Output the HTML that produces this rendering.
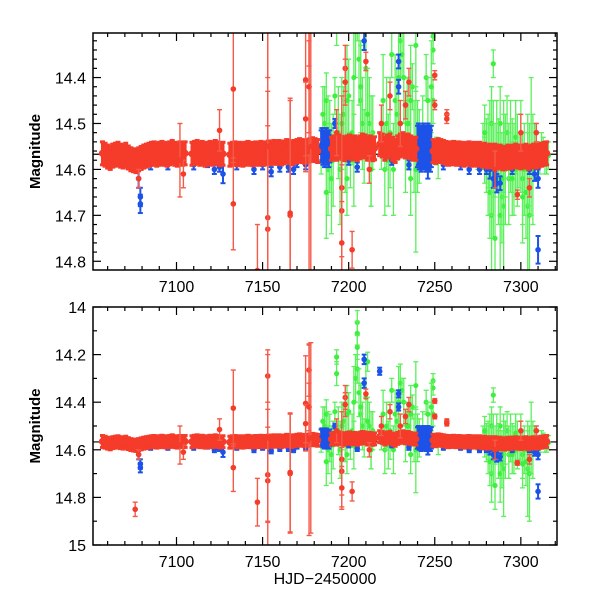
<!DOCTYPE html>
<html><head><meta charset="utf-8">
<style>
html,body{margin:0;padding:0;background:#fff;}
svg{display:block;}
text{font-family:"Liberation Sans",sans-serif;fill:#000;}
</style></head>
<body>
<svg id="chart" width="600" height="600" viewBox="0 0 600 600"></svg>
<script>
// ---- data (HJD-2450000, magnitude, error) ----
const redBandT = [7057,7058.5,7060,7061.5,7063,7064.5,7066,7067.5,7069,7070.5,7072,7073.5,7075,7076.5,7078,7079.5,7081,7082.5,7084,7085.5,7087,7088.5,7090,7091.5,7093,7094.5,7096,7097.5,7099,7100.5,7102,7103.5,7105,
7109,7110.5,7112,7113.5,7115,7116.5,7118,7119.5,7121,7122.5,7124,7125.5,7127,
7131,7132.5,7134,7135.5,7137,7138.5,7140,7141.5,7143,7144.5,7146,7147.5,7149,7150.5,7152,7153.5,7155,7156.5,7158,7159.5,7161,7162.5,7164,7165.5,7167,7168.5,7170,7171.5,7173,7174.5,7176,7177.5,7179,7180.5,7182,
7190,7191.5,7193,7194.5,7196,7197.5,7199,7200.5,7202,7203.5,7205,7206.5,7208,7209.5,7211,7212.5,7214,7215,
7218,7219.5,7221,7222.5,7224,7225.5,7227,7228.5,7230,7231.5,7233,7234.5,7236,7237.5,7239,
7249,7250.5,7252,7253.5,7255,7256.5,7258,7259.5,7261,7262.5,7264,7265.5,7267,7268.5,7270,7271.5,7273,7274.5,7276,7277.5,7279,7280.5,7282,7283.5,7285,7286.5,7288,7289.5,7291,7292.5,7294,7295.5,7297,7298.5,7300,7301.5,7303,7304.5,7306,7307.5,7309,7310.5,7312,7313.5,7315];
const redBandM = [14.565,14.568,14.572,14.575,14.57,14.568,14.566,14.57,14.572,14.568,14.574,14.578,14.58,14.582,14.578,14.575,14.572,14.57,14.568,14.566,14.565,14.568,14.566,14.564,14.566,14.568,14.565,14.562,14.566,14.568,14.565,14.566,14.565,
14.566,14.564,14.562,14.566,14.564,14.568,14.566,14.564,14.566,14.562,14.565,14.567,14.566,
14.568,14.566,14.565,14.567,14.566,14.568,14.566,14.564,14.566,14.567,14.565,14.566,14.564,14.566,14.565,14.563,14.565,14.562,14.564,14.562,14.565,14.563,14.56,14.562,14.565,14.562,14.56,14.558,14.56,14.562,14.56,14.558,14.556,14.558,14.56,
14.555,14.552,14.555,14.55,14.553,14.556,14.552,14.55,14.554,14.552,14.556,14.552,14.548,14.55,14.555,14.552,14.556,14.554,
14.545,14.548,14.555,14.55,14.548,14.555,14.56,14.552,14.548,14.545,14.55,14.548,14.552,14.555,14.555,
14.56,14.562,14.558,14.56,14.562,14.564,14.566,14.565,14.564,14.566,14.565,14.566,14.568,14.566,14.565,14.568,14.566,14.568,14.566,14.57,14.568,14.572,14.57,14.572,14.57,14.574,14.572,14.576,14.575,14.572,14.574,14.572,14.57,14.572,14.574,14.572,14.57,14.575,14.572,14.57,14.572,14.57,14.568,14.566,14.565];
const redOutT = [7133,7133,7153,7153,7153,7147,7175,7177,7177,7166,7166,7196,7196,7196,7202,7198,7198,7210,7224,7233,7235,7250,7250,7257,7257,7298,7305,7309,7076,7078,7104,7102,7125,7212,7175,7177,7193,7230,7219,7285,7300,7153,7178];
const redOutM = [14.425,14.675,14.29,14.705,14.73,14.82,14.405,14.265,14.56,14.70,14.695,14.64,14.69,14.76,14.775,14.38,14.41,14.365,14.44,14.46,14.41,14.395,14.46,14.48,14.49,14.655,14.64,14.52,14.85,14.62,14.61,14.58,14.515,14.60,14.49,14.42,14.52,14.50,14.50,14.60,14.52,14.55,14.55];
const redOutE = [0.16,0.1,0.11,0.2,0.3,0.1,0.2,0.11,0.4,0.25,0.25,0.2,0.1,0.09,0.04,0.05,0.05,0.02,0.03,0.03,0.03,0.01,0.01,0.01,0.01,0.01,0.02,0.02,0.03,0.02,0.03,0.08,0.045,0.03,0.08,0.1,0.05,0.05,0.04,0.04,0.04,0.35,0.4];

const blueT = [7184,7184.5,7185,7185.5,7186,7186.5,7187,7187.5,7188,7188.5,7189,7240,7240.5,7241,7241.5,7242,7242.5,7243,7243.5,7244,7244.5,7245,7245.5,7246,7246.5,7247,7247.5,7248,
7079,7079,7078,7209,7209,7218,7229,7229,7310,7286,7284,7282,7122,7127,7145,7155,7165,7192,7246,7270,7276,7310,7080,7090,7100,7115,7140,7170,7200,7225,7260,7290,7300,
7085,7095,7110,7118,7125,7135,7150,7160,7168,7175,7205,7235,7255,7265,7280,7285,7288,7295,7305,7308];
const blueM = [14.55,14.545,14.555,14.55,14.56,14.55,14.545,14.555,14.55,14.56,14.55,14.55,14.545,14.555,14.55,14.56,14.55,14.555,14.545,14.555,14.55,14.56,14.55,14.545,14.555,14.55,14.56,14.55,
14.66,14.675,14.62,14.22,14.32,14.27,14.365,14.42,14.775,14.63,14.62,14.60,14.60,14.61,14.60,14.605,14.595,14.50,14.60,14.60,14.60,14.62,14.585,14.58,14.575,14.58,14.58,14.585,14.58,14.58,14.58,14.585,14.58,
14.59,14.59,14.59,14.585,14.595,14.59,14.59,14.595,14.6,14.59,14.595,14.59,14.59,14.59,14.6,14.62,14.63,14.6,14.6,14.61];
const blueE = [0.035,0.035,0.035,0.035,0.035,0.035,0.035,0.035,0.035,0.035,0.035,0.045,0.045,0.045,0.045,0.045,0.045,0.045,0.045,0.045,0.045,0.045,0.045,0.045,0.045,0.045,0.045,0.045,
0.02,0.02,0.02,0.02,0.02,0.015,0.015,0.015,0.03,0.02,0.02,0.02,0.01,0.02,0.01,0.01,0.01,0.01,0.02,0.01,0.01,0.02,0.01,0.01,0.01,0.01,0.01,0.01,0.01,0.01,0.01,0.01,0.01,
0.01,0.01,0.01,0.01,0.01,0.01,0.01,0.01,0.01,0.01,0.01,0.01,0.01,0.01,0.01,0.015,0.015,0.01,0.01,0.015];

const greenT = [7184,7186,7187,7188,7189,7190,7192,7193,7193,7194,7195,7197,7198,7200,7201,7202,7204,7205,7205,7205,7205,7206,7207,7208,7210,7211,7212,7213,7214,7219,7221,7222,7223,7225,7227,7230,7231,7232,7233,7235,7237,7238,7239,7239,7241,7245,7246,7247,7249,7249,7249,7251,7265,7275,7278,7279,7280,7281,7282,7282,7283,7283,7284,7284,7285,7286,7287,7288,7289,7290,7290,7291,7292,7293,7294,7295,7296,7297,7298,7300,7302,7303,7304,7305,7306,7307,7309,7311,7313,7315,7187,7199,7203,7226,7236,7288,7301,
7185,7188,7191,7196,7199,7203,7207,7209,7211,7213,7220,7224,7228,7229,7234,7236,7240,7243,7248,7252,7279,7281,7283,7285,7287,7289,7291,7293,7295,7297,7299,7301,7304,7308,7310,7312,7314,7316];
const greenM = [14.56,14.50,14.45,14.60,14.55,14.62,14.44,14.21,14.28,14.52,14.60,14.48,14.55,14.44,14.58,14.52,14.30,14.065,14.11,14.17,14.26,14.36,14.45,14.50,14.38,14.23,14.50,14.56,14.52,14.55,14.60,14.50,14.58,14.35,14.45,14.32,14.35,14.40,14.55,14.50,14.42,14.55,14.33,14.60,14.55,14.40,14.45,14.55,14.31,14.34,14.45,14.56,14.57,14.57,14.55,14.58,14.57,14.60,14.55,14.65,14.70,14.50,14.37,14.60,14.75,14.55,14.62,14.50,14.66,14.68,14.55,14.60,14.52,14.62,14.55,14.57,14.60,14.53,14.58,14.55,14.60,14.65,14.68,14.70,14.55,14.60,14.55,14.58,14.56,14.58,14.65,14.62,14.58,14.60,14.62,14.70,14.62,
14.48,14.52,14.58,14.50,14.45,14.40,14.42,14.55,14.48,14.60,14.45,14.52,14.48,14.40,14.50,14.45,14.55,14.52,14.42,14.58,14.52,14.56,14.60,14.58,14.55,14.62,14.58,14.56,14.62,14.60,14.58,14.66,14.60,14.55,14.58,14.55,14.58,14.57];
const greenE = [0.05,0.08,0.06,0.1,0.1,0.12,0.04,0.03,0.05,0.1,0.12,0.06,0.1,0.08,0.06,0.07,0.1,0.05,0.05,0.05,0.06,0.1,0.12,0.1,0.15,0.04,0.1,0.12,0.08,0.05,0.1,0.1,0.1,0.05,0.1,0.08,0.05,0.1,0.1,0.1,0.05,0.1,0.1,0.18,0.08,0.05,0.05,0.05,0.03,0.03,0.05,0.03,0.02,0.03,0.05,0.05,0.08,0.1,0.1,0.1,0.12,0.08,0.03,0.15,0.1,0.1,0.1,0.08,0.1,0.2,0.1,0.12,0.08,0.1,0.1,0.08,0.1,0.08,0.1,0.1,0.1,0.1,0.2,0.2,0.15,0.12,0.05,0.03,0.03,0.03,0.1,0.08,0.1,0.1,0.08,0.12,0.1,
0.06,0.08,0.1,0.1,0.12,0.15,0.1,0.08,0.1,0.08,0.1,0.12,0.1,0.15,0.1,0.12,0.1,0.08,0.1,0.04,0.06,0.08,0.1,0.08,0.06,0.1,0.08,0.06,0.08,0.06,0.06,0.1,0.08,0.05,0.04,0.03,0.03,0.03];

const xTicks = [7100,7150,7200,7250,7300];
const topYTicks = [14.4,14.5,14.6,14.7,14.8];
const botYTicks = [14,14.2,14.4,14.6,14.8,15];
const meanMag = 14.567;
const bandErr = 0.025;

// ---- layout ----
const NS = "http://www.w3.org/2000/svg";
const svg = document.getElementById('chart');
const X0 = 93, X1 = 557, T0 = 7051.5, T1 = 7321;
function xs(t){ return X0 + (t - T0) / (T1 - T0) * (X1 - X0); }
const panels = [
  {name:'top', y0:33, y1:270, m0:14.303, m1:14.819, ticks:topYTicks, minor:0.02, lab:v=>v.toFixed(1)},
  {name:'bottom', y0:307, y1:545, m0:14.0, m1:15.0, ticks:botYTicks, minor:0.1, lab:v=>(Math.abs(v-Math.round(v))<1e-9?String(Math.round(v)):v.toFixed(1))}
];
function mk(tag, attrs, parent){
  const e = document.createElementNS(NS, tag);
  for (const k in attrs) e.setAttribute(k, attrs[k]);
  (parent||svg).appendChild(e);
  return e;
}
panels.forEach((p, pi) => {
  const ys = m => p.y0 + (m - p.m0) / (p.m1 - p.m0) * (p.y1 - p.y0);
  const g = mk('g', {});
  
  
  const cp = mk('clipPath', {id:'clip'+pi}, g);
  mk('rect', {x:X0, y:p.y0, width:X1-X0, height:p.y1-p.y0}, cp);
  const plot = mk('g', {'clip-path':'url(#clip'+pi+')'}, g);
  
  
  const ml = mk('line', {x1:X0, x2:X1, y1:ys(meanMag), y2:ys(meanMag), stroke:'#000', 'stroke-width':1.2}, plot);
  
  
  function drawPoint(parent, nm, t, m, e, c, ec, r, sw){
    const x = xs(t), y = ys(m), ya = ys(m - e), yb = ys(m + e);
    const pt = mk('g', {}, parent);
    
    
    mk('line', {x1:x, x2:x, y1:ya, y2:yb, stroke:ec, 'stroke-width':sw}, pt);
    mk('line', {x1:x-2.5, x2:x+2.5, y1:ya, y2:ya, stroke:ec, 'stroke-width':sw}, pt);
    mk('line', {x1:x-2.5, x2:x+2.5, y1:yb, y2:yb, stroke:ec, 'stroke-width':sw}, pt);
    mk('circle', {cx:x, cy:y, r:r, fill:c}, pt);
  }
  const gg = mk('g', {}, plot);
  
  
  for (let i = 0; i < greenT.length; i++) drawPoint(gg, 'green', greenT[i], greenM[i], greenE[i], '#3ef03e', '#5cf05c', 2.6, 1.3);
  const bg = mk('g', {}, plot);
  
  
  for (let i = 0; i < blueT.length; i++) drawPoint(bg, 'blue', blueT[i], blueM[i], blueE[i], '#1c52e8', '#1c52e8', 2.8, 2);
  const rg = mk('g', {}, plot);
  
  
  for (let i = 0; i < redBandT.length; i++) drawPoint(rg, 'red', redBandT[i], redBandM[i], bandErr, '#f53b2a', '#f53b2a', 3.6, 3);
  for (let i = 0; i < redOutT.length; i++) drawPoint(rg, 'red', redOutT[i], redOutM[i], redOutE[i], '#f53b2a', '#f55a48', 2.8, 1.4);
  const fr = mk('rect', {x:X0, y:p.y0, width:X1-X0, height:p.y1-p.y0, fill:'none', stroke:'#000', 'stroke-width':1.5}, g);
  
  
  for (let t = 7060; t <= 7320; t += 10) {
    const x = xs(t), L = (t % 50 === 0) ? 8 : 4;
    mk('line', {x1:x, x2:x, y1:p.y1, y2:p.y1-L, stroke:'#000', 'stroke-width':1.2}, g);
    mk('line', {x1:x, x2:x, y1:p.y0, y2:p.y0+L, stroke:'#000', 'stroke-width':1.2}, g);
  }
  xTicks.forEach(t => {
    const tx = mk('text', {x:xs(t), y:p.y1+22, 'text-anchor':'middle', 'font-size':16}, g);
    tx.textContent = t;
    
    
  });
  const nMin = Math.round((p.m1 - p.m0) / p.minor);
  for (let k = 0; k <= nMin + 1; k++) {
    const m = Math.ceil(p.m0 / p.minor - 1e-6) * p.minor + k * p.minor;
    if (m > p.m1 + 1e-9) break;
    const isMajor = p.ticks.some(v => Math.abs(v - m) < 1e-6);
    const y = ys(m), L = isMajor ? 8 : 4;
    mk('line', {x1:X0, x2:X0+L, y1:y, y2:y, stroke:'#000', 'stroke-width':1.2}, g);
    mk('line', {x1:X1, x2:X1-L, y1:y, y2:y, stroke:'#000', 'stroke-width':1.2}, g);
  }
  p.ticks.forEach(v => {
    const tx = mk('text', {x:X0-7, y:ys(v)+6, 'text-anchor':'end', 'font-size':16}, g);
    tx.textContent = p.lab(v);
    
    
  });
  const yt = mk('text', {x:0, y:0, 'text-anchor':'middle', 'font-size':15, 'font-weight':'bold', transform:'translate(40,'+((p.y0+p.y1)/2)+') rotate(-90)'}, g);
  yt.textContent = 'Magnitude';
  
  
});
const xt = mk('text', {x:(X0+X1)/2, y:584, 'text-anchor':'middle', 'font-size':16});
xt.textContent = 'HJD\u22122450000';


</script>
</body></html>
